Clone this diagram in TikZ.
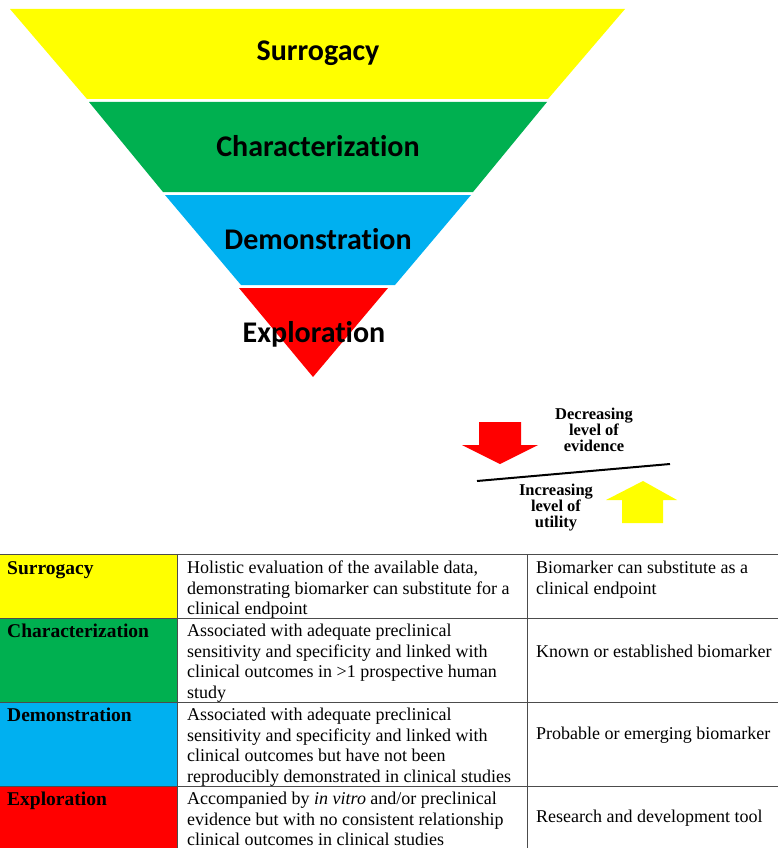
\documentclass[tikz,border=0pt]{standalone}
\usepackage{fontspec}
\setmainfont{Liberation Serif}
\newfontfamily\calibri[Ligatures=NoCommon]{Carlito}
\usetikzlibrary{positioning}
\usepackage{xcolor}
\definecolor{tierYellow}{HTML}{FFFF00}
\definecolor{tierGreen}{HTML}{00B050}
\definecolor{tierBlue}{HTML}{00B0F0}
\definecolor{tierRed}{HTML}{FF0000}

\begin{document}
\begin{tikzpicture}[
    x=1pt,
    y=-1pt,
    tier/.style={
        anchor=base,
        font=\calibri\bfseries\fontsize{30}{34}\selectfont,
        inner sep=0pt
    },
    legend/.style={
        font=\bfseries\fontsize{16.5}{16}\selectfont,
        align=center,
        inner sep=0pt
    },
    head/.style={
        anchor=base west,
        font=\bfseries\fontsize{19.5}{20.5}\selectfont,
        inner sep=0pt
    },
    cell/.style={
        anchor=north west,
        align=left,
        font=\fontsize{18}{20.5}\selectfont,
        inner sep=0pt
    },
    grid/.style={
        line width=0.8pt,
        black!70
    }
]

\useasboundingbox (0,0) rectangle (778,848);

% Pyramid bands
\fill[tierYellow] (10,9) -- (625,9) -- (548,99) -- (87,99) -- cycle;
\fill[tierGreen] (89,102) -- (547,102) -- (473,192) -- (163,192) -- cycle;
\fill[tierBlue] (165,195) -- (471,195) -- (395,285) -- (241,285) -- cycle;
\fill[tierRed] (239,288) -- (388,288) -- (313,377) -- cycle;

\node[tier] (surrogacy) at (318,61) {Surrogacy};
\node[tier] (characterization) at (318,156) {Characterization};
\node[tier] (demonstration) at (318,249.5) {Demonstration};
\node[tier] (exploration) at (314,342) {Exploration};

% Legend arrows
\fill[tierRed] (479,422) -- (521,422) -- (521,445) -- (538,445) -- (500,464)
    -- (462,445) -- (479,445) -- cycle;
\fill[tierYellow] (622,523) -- (663,523) -- (663,500) -- (677,500) -- (643,481)
    -- (606,500) -- (622,500) -- cycle;

\coordinate (divL) at (477,481);
\coordinate (divR) at (670,464);
\draw[line width=2pt] (divL) -- (divR);

\node[legend] (evidence) at (594,430) {Decreasing\\level of\\evidence};
\node[legend] (utility) at (556,508) {Increasing\\level of\\utility};

% Table cells
\fill[tierYellow] (0,554) rectangle (177,618);
\fill[tierGreen] (0,618) rectangle (177,702);
\fill[tierBlue] (0,702) rectangle (177,786);
\fill[tierRed] (0,786) rectangle (177,848);

\draw[grid] (0,554) -- (778,554);
\draw[grid] (0,618) -- (778,618);
\draw[grid] (0,702) -- (778,702);
\draw[grid] (0,786) -- (778,786);
\draw[grid] (177,554) -- (177,848);
\draw[grid] (527,554) -- (527,848);

% Row headers
\node[head] (hSurrogacy) at (7,574) {Surrogacy};
\node[head] (hCharacterization) at (7,637) {Characterization};
\node[head] (hDemonstration) at (7,721) {Demonstration};
\node[head] (hExploration) at (7,805) {Exploration};

% Criteria
\node[cell] (cSurrogacy) at (187,561) {Holistic evaluation of the available data,\\
demonstrating biomarker can substitute for a\\
clinical endpoint};
\node[cell] (cCharacterization) at (187,624) {Associated with adequate preclinical\\
sensitivity and specificity and linked with\\
clinical outcomes in >1 prospective human\\
study};
\node[cell] (cDemonstration) at (187,708) {Associated with adequate preclinical\\
sensitivity and specificity and linked with\\
clinical outcomes but have not been\\
reproducibly demonstrated in clinical studies};
\node[cell] (cExploration) at (187,792) {Accompanied by \textit{in vitro} and/or preclinical\\
evidence but with no consistent relationship\\
clinical outcomes in clinical studies};

% Biomarker status
\node[cell] (sSurrogacy) at (536,561) {Biomarker can substitute as a\\
clinical endpoint};
\node[cell, anchor=west] (sCharacterization) at (536,651) {Known or established biomarker};
\node[cell, anchor=west] (sDemonstration) at (536,735) {Probable or emerging biomarker};
\node[cell, anchor=west] (sExploration) at (536,818) {Research and development tool};

\end{tikzpicture}
\end{document}
